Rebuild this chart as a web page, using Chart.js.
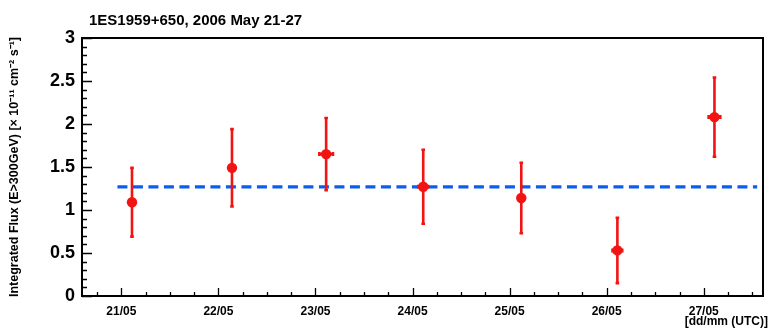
<!DOCTYPE html>
<html>
<head>
<meta charset="utf-8">
<script src="https://cdn.jsdelivr.net/npm/chart.js@4.4.0/dist/chart.umd.min.js"></script>
<style>
  html, body { margin: 0; padding: 0; background: #fff; }
  #wrap { width: 769px; height: 329px; position: relative; }
</style>
</head>
<body>
<div id="wrap"><canvas id="lc"></canvas></div>
<script>
// Nightly integrated flux above 300 GeV, 1ES1959+650, May 2006
const dayTicks  = [21, 22, 23, 24, 25, 26, 27];
const dayLabels = ['21/05', '22/05', '23/05', '24/05', '25/05', '26/05', '27/05'];
const obsTime   = [21.11, 22.14, 23.11, 24.11, 25.12, 26.11, 27.11];   // day of May (UTC)
const timeErr   = [0.02, 0.02, 0.07, 0.05, 0.03, 0.05, 0.06];
const flux      = [1.09, 1.49, 1.65, 1.27, 1.14, 0.53, 2.08];           // 1e-11 cm^-2 s^-1
const fluxErr   = [0.40, 0.45, 0.42, 0.43, 0.41, 0.38, 0.46];
const meanFlux  = 1.27;
const meanSpan  = [20.96, 27.55];
const yTicks    = [0, 0.5, 1, 1.5, 2, 2.5, 3];

const RED = '#f21313';
const BLUE = '#0b5cf2';
const FONT = '"Liberation Sans", Arial, Helvetica, sans-serif';

// error bars + ROOT-style frame with inward ticks
const rootStyle = {
  id: 'rootStyle',
  beforeDatasetDraw(chart, args) {
    if (args.index !== 0) return;
    const x = chart.scales.x, y = chart.scales.y, ctx = chart.ctx;
    ctx.save();
    ctx.strokeStyle = RED;
    ctx.lineWidth = 2.6;
    for (let i = 0; i < flux.length; i++) {
      const px = x.getPixelForValue(obsTime[i]);
      const py = y.getPixelForValue(flux[i]);
      const top = y.getPixelForValue(flux[i] + fluxErr[i]);
      const bot = y.getPixelForValue(flux[i] - fluxErr[i]);
      const xl = x.getPixelForValue(obsTime[i] - timeErr[i]);
      const xr = x.getPixelForValue(obsTime[i] + timeErr[i]);
      ctx.beginPath();
      ctx.moveTo(px, top); ctx.lineTo(px, bot);
      ctx.moveTo(xl, py); ctx.lineTo(xr, py);
      ctx.stroke();
      ctx.beginPath();
      ctx.moveTo(px - 1.8, top); ctx.lineTo(px + 1.8, top);
      ctx.moveTo(px - 1.8, bot); ctx.lineTo(px + 1.8, bot);
      ctx.moveTo(xl, py - 2); ctx.lineTo(xl, py + 2);
      ctx.moveTo(xr, py - 2); ctx.lineTo(xr, py + 2);
      ctx.stroke();
    }
    ctx.restore();
  },
  afterDraw(chart) {
    const x = chart.scales.x, y = chart.scales.y, ctx = chart.ctx;
    const a = chart.chartArea;
    ctx.save();
    ctx.strokeStyle = '#000';
    ctx.lineWidth = 1.3;
    // y ticks: major every 0.5, minor every 0.1
    ctx.beginPath();
    for (let k = 0; k <= 30; k++) {
      const py = Math.round(y.getPixelForValue(k / 10)) + 0.5;
      const len = (k % 5 === 0) ? 10 : 5;
      ctx.moveTo(a.left, py); ctx.lineTo(a.left + len, py);
    }
    // x ticks: major each day, minor every 6 hours
    for (let q = 20 * 4; q <= 28 * 4; q++) {
      const v = q / 4;
      if (v < x.min || v > x.max) continue;
      const px = Math.round(x.getPixelForValue(v)) + 0.5;
      const len = (q % 4 === 0) ? 8 : 4;
      ctx.moveTo(px, a.bottom); ctx.lineTo(px, a.bottom - len);
    }
    ctx.stroke();
    // frame
    ctx.lineWidth = 2;
    ctx.strokeRect(a.left, a.top, a.right - a.left, a.bottom - a.top);
    // titles
    ctx.fillStyle = '#000';
    ctx.font = 'bold 15px ' + FONT;
    ctx.textAlign = 'left';
    ctx.textBaseline = 'alphabetic';
    ctx.fillText('1ES1959+650, 2006 May 21-27', 89, 25);
    ctx.font = 'bold 12px ' + FONT;
    ctx.textAlign = 'right';
    ctx.fillText('[dd/mm (UTC)]', 768, 325);
    ctx.restore();
  }
};

new Chart(document.getElementById('lc'), {
  type: 'scatter',
  data: {
    datasets: [
      {
        label: 'Flux',
        order: 0,
        data: obsTime.map((t, i) => ({ x: t, y: flux[i] })),
        pointStyle: 'circle',
        pointRadius: 5.2,
        pointBackgroundColor: RED,
        pointBorderColor: RED,
        pointBorderWidth: 0,
        showLine: false
      },
      {
        label: 'Mean',
        type: 'line',
        order: 1,
        data: meanSpan.map(t => ({ x: t, y: meanFlux })),
        borderColor: BLUE,
        borderWidth: 3.2,
        borderDash: [10, 5.5],
        pointRadius: 0,
        fill: false
      }
    ]
  },
  options: {
    responsive: true,
    maintainAspectRatio: false,
    animation: false,
    events: [],
    layout: { padding: { left: 0, right: 6, top: 38, bottom: 0 } },
    plugins: {
      legend: { display: false },
      tooltip: { enabled: false },
      title: { display: false }
    },
    scales: {
      x: {
        type: 'linear',
        min: 20.595,
        max: 27.61,
        grid: { display: false, drawTicks: false },
        border: { display: false },
        afterBuildTicks(s) { s.ticks = dayTicks.map(v => ({ value: v })); },
        afterFit(s) { s.height = 33; },
        ticks: {
          padding: 8,
          autoSkip: false,
          maxRotation: 0,
          color: '#000',
          font: { family: FONT, weight: 'bold', size: 12 },
          callback: (v) => dayLabels[dayTicks.indexOf(v)] ?? ''
        }
      },
      y: {
        min: 0,
        max: 3,
        grid: { display: false, drawTicks: false },
        border: { display: false },
        afterBuildTicks(s) { s.ticks = yTicks.map(v => ({ value: v })); },
        afterFit(s) { s.width = 82; },
        ticks: {
          padding: 7,
          color: '#000',
          font: { family: FONT, weight: 'bold', size: 18 },
          callback: (v) => String(v)
        },
        title: {
          display: true,
          text: 'Integrated Flux (E>300GeV) [\u00d7 10\u207b\u00b9\u00b9 cm\u207b\u00b2 s\u207b\u00b9]',
          color: '#000',
          font: { family: FONT, weight: 'bold', size: 12.5 },
          padding: { top: 7, bottom: 0 }
        }
      }
    }
  },
  plugins: [rootStyle]
});
</script>
</body>
</html>
